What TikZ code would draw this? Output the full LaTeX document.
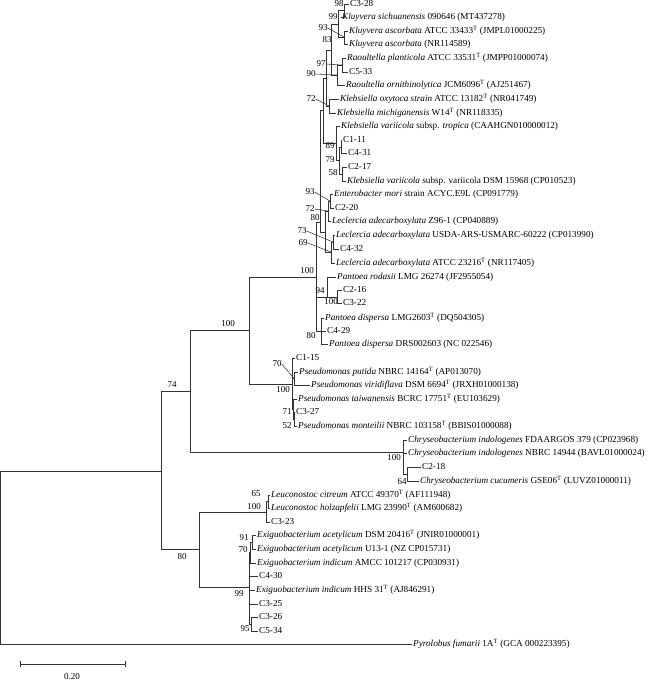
\documentclass[tikz,border=0pt]{standalone}
\usepackage{fontspec}
\setmainfont{Liberation Serif}
\begin{document}
\begin{tikzpicture}[x=1pt, y=-1pt,
        branch/.style={color=black!80, line width=0.7pt},
        lead/.style={color=black!80, line width=0.55pt},
        taxon/.style={anchor=west, inner sep=1.5pt, text height=1.6ex, text depth=0.3ex, font=\fontsize{9.2}{11}\selectfont},
        boot/.style={inner sep=0pt, font=\fontsize{9}{10}\selectfont}]
        \useasboundingbox (0,0) rectangle (650,681);
        % taxa
        \node[taxon] (l1) at (348.5,4) {C3-28};
        \node[taxon] (l2) at (340.5,17) {\textit{Kluyvera sichuanensis} 090646 (MT437278)};
        \node[taxon] (l3) at (347.5,31) {\textit{Kluyvera ascorbata} ATCC 33433\textsuperscript{T} (JMPL01000225)};
        \node[taxon] (l4) at (347.5,44) {\textit{Kluyvera ascorbata} (NR114589)};
        \node[taxon] (l5) at (345.5,58) {\textit{Raoultella planticola} ATCC 33531\textsuperscript{T} (JMPP01000074)};
        \node[taxon] (l6) at (347.5,72) {C5-33};
        \node[taxon] (l7) at (344.5,85) {\textit{Raoultella ornithinolytica} JCM6096\textsuperscript{T} (AJ251467)};
        \node[taxon] (l8) at (338.5,99) {\textit{Klebsiella oxytoca strain} ATCC 13182\textsuperscript{T} (NR041749)};
        \node[taxon] (l9) at (335.5,113) {\textit{Klebsiella michiganensis} W14\textsuperscript{T} (NR118335)};
        \node[taxon] (l10) at (339.5,126) {\textit{Klebsiella variicola} subsp. \textit{tropica} (CAAHGN010000012)};
        \node[taxon] (l11) at (341.5,140) {C1-11};
        \node[taxon] (l12) at (346.5,153) {C4-31};
        \node[taxon] (l13) at (346.5,167) {C2-17};
        \node[taxon] (l14) at (345.5,181) {\textit{Klebsiella variicola} subsp. variicola DSM 15968 (CP010523)};
        \node[taxon] (l15) at (332.5,194) {\textit{Enterobacter mori} strain ACYC.E9L (CP091779)};
        \node[taxon] (l16) at (333.5,208) {C2-20};
        \node[taxon] (l17) at (330.5,221) {\textit{Leclercia adecarboxylata} Z96-1 (CP040889)};
        \node[taxon] (l18) at (334.5,235) {\textit{Leclercia adecarboxylata} USDA-ARS-USMARC-60222 (CP013990)};
        \node[taxon] (l19) at (338.5,249) {C4-32};
        \node[taxon] (l20) at (334.5,263) {\textit{Leclercia adecarboxylata} ATCC 23216\textsuperscript{T} (NR117405)};
        \node[taxon] (l21) at (335.5,277) {\textit{Pantoea rodasii} LMG 26274 (JF2955054)};
        \node[taxon] (l22) at (341.5,290) {C2-16};
        \node[taxon] (l23) at (341.5,303) {C3-22};
        \node[taxon] (l24) at (323.5,318) {\textit{Pantoea dispersa} LMG2603\textsuperscript{T} (DQ504305)};
        \node[taxon] (l25) at (325.5,331) {C4-29};
        \node[taxon] (l26) at (327.5,344) {\textit{Pantoea dispersa} DRS002603 (NC 022546)};
        \node[taxon] (l27) at (294.5,358) {C1-15};
        \node[taxon] (l28) at (297.5,372) {\textit{Pseudomonas putida} NBRC 14164\textsuperscript{T} (AP013070)};
        \node[taxon] (l29) at (309.5,385) {\textit{Pseudomonas viridiflava} DSM 6694\textsuperscript{T} (JRXH01000138)};
        \node[taxon] (l30) at (296.5,399) {\textit{Pseudomonas taiwanensis} BCRC 17751\textsuperscript{T} (EU103629)};
        \node[taxon] (l31) at (294.5,412) {C3-27};
        \node[taxon] (l32) at (296.5,426) {\textit{Pseudomonas monteilii} NBRC 103158\textsuperscript{T} (BBIS01000088)};
        \node[taxon] (l33) at (406.5,440) {\textit{Chryseobacterium indologenes} FDAARGOS 379 (CP023968)};
        \node[taxon] (l34) at (406.5,453) {\textit{Chryseobacterium indologenes} NBRC 14944 (BAVL01000024)};
        \node[taxon] (l35) at (420.5,467) {C2-18};
        \node[taxon] (l36) at (418.5,481) {\textit{Chryseobacterium cucumeris} GSE06\textsuperscript{T} (LUVZ01000011)};
        \node[taxon] (l37) at (269.5,495) {\textit{Leuconostoc citreum} ATCC 49370\textsuperscript{T} (AF111948)};
        \node[taxon] (l38) at (269.5,508) {\textit{Leuconostoc holzapfelii} LMG 23990\textsuperscript{T} (AM600682)};
        \node[taxon] (l39) at (269.5,522) {C3-23};
        \node[taxon] (l40) at (255.5,535) {\textit{Exiguobacterium acetylicum} DSM 20416\textsuperscript{T} (JNIR01000001)};
        \node[taxon] (l41) at (255.5,549) {\textit{Exiguobacterium acetylicum} U13-1 (NZ CP015731)};
        \node[taxon] (l42) at (255.5,563) {\textit{Exiguobacterium indicum} AMCC 101217 (CP030931)};
        \node[taxon] (l43) at (257.5,576) {C4-30};
        \node[taxon] (l44) at (254.5,590) {\textit{Exiguobacterium indicum} HHS 31\textsuperscript{T} (AJ846291)};
        \node[taxon] (l45) at (257.5,604) {C3-25};
        \node[taxon] (l46) at (257.5,617) {C3-26};
        \node[taxon] (l47) at (257.5,631) {C5-34};
        \node[taxon] (l48) at (411.5,644) {\textit{Pyrolobus fumarii} 1A\textsuperscript{T} (GCA 000223395)};
        % internal nodes
        \coordinate (root) at (0,557.5);
        \coordinate (nA) at (161,471);
        \coordinate (nB) at (190,391);
        \coordinate (nG) at (199,549);
        \coordinate (nC) at (249,330);
        \coordinate (nCh) at (403,452);
        \coordinate (nD) at (316,277);
        \coordinate (nPs) at (292,384);
        \coordinate (nE) at (320,222);
        \coordinate (nR) at (327,297);
        \coordinate (nRb) at (337,297);
        \coordinate (nP) at (321,331);
        \coordinate (nKV) at (323,110);
        \coordinate (nLec) at (325,232);
        \coordinate (nKO) at (326,78);
        \coordinate (nVar) at (336,143);
        \coordinate (n83) at (331,50);
        \coordinate (n72) at (329,106);
        \coordinate (n99) at (338,24);
        \coordinate (n90) at (337,75);
        \coordinate (n98) at (344,10);
        \coordinate (nAsc) at (344,37);
        \coordinate (n97) at (342,65);
        \coordinate (n79) at (339,160);
        \coordinate (n89) at (341,147);
        \coordinate (n58) at (342,174);
        \coordinate (n72b) at (328,211);
        \coordinate (n69) at (331,252);
        \coordinate (n93) at (330,201);
        \coordinate (n73) at (333,242);
        \coordinate (n70) at (294,378.5);
        \coordinate (n71) at (293,409);
        \coordinate (n52) at (294,419);
        \coordinate (n64) at (407,474);
        \coordinate (nLeu) at (266,512);
        \coordinate (n65) at (268,501);
        \coordinate (nEx) at (249,587);
        \coordinate (n70e) at (250,552);
        \coordinate (n91) at (252,542);
        \coordinate (n95) at (251,624);
        % branches
        \draw[branch] (root) |- (nA);
        \draw[branch] (root) |- (l48);
        \draw[branch] (nA) |- (nB);
        \draw[branch] (nA) |- (nG);
        \draw[branch] (nB) |- (nC);
        \draw[branch] (nB) |- (nCh);
        \draw[branch] (nC) |- (nD);
        \draw[branch] (nC) |- (nPs);
        \draw[branch] (nD) |- (nE);
        \draw[branch] (nD) |- (nR);
        \draw[branch] (nD) |- (nP);
        \draw[branch] (nE) |- (nKV);
        \draw[branch] (nE) |- (nLec);
        \draw[branch] (nKV) |- (nKO);
        \draw[branch] (nKV) |- (nVar);
        \draw[branch] (nKO) |- (n83);
        \draw[branch] (nKO) |- (n72);
        \draw[branch] (n83) |- (n99);
        \draw[branch] (n83) |- (n90);
        \draw[branch] (n99) |- (n98);
        \draw[branch] (n99) |- (nAsc);
        \draw[branch] (n98) |- (l1);
        \draw[branch] (n98) |- (l2);
        \draw[branch] (nAsc) |- (l3);
        \draw[branch] (nAsc) |- (l4);
        \draw[branch] (n90) |- (n97);
        \draw[branch] (n90) |- (l7);
        \draw[branch] (n97) |- (l5);
        \draw[branch] (n97) |- (l6);
        \draw[branch] (n72) |- (l8);
        \draw[branch] (n72) |- (l9);
        \draw[branch] (nVar) |- (l10);
        \draw[branch] (nVar) |- (n79);
        \draw[branch] (n79) |- (n89);
        \draw[branch] (n79) |- (n58);
        \draw[branch] (n89) |- (l11);
        \draw[branch] (n89) |- (l12);
        \draw[branch] (n58) |- (l13);
        \draw[branch] (n58) |- (l14);
        \draw[branch] (nLec) |- (n72b);
        \draw[branch] (nLec) |- (n69);
        \draw[branch] (n72b) |- (n93);
        \draw[branch] (n72b) |- (l17);
        \draw[branch] (n93) |- (l15);
        \draw[branch] (n93) |- (l16);
        \draw[branch] (n69) |- (n73);
        \draw[branch] (n69) |- (l20);
        \draw[branch] (n73) |- (l18);
        \draw[branch] (n73) |- (l19);
        \draw[branch] (nR) |- (l21);
        \draw[branch] (nR) |- (nRb);
        \draw[branch] (nRb) |- (l22);
        \draw[branch] (nRb) |- (l23);
        \draw[branch] (nP) |- (l24);
        \draw[branch] (nP) |- (l25);
        \draw[branch] (nP) |- (l26);
        \draw[branch] (nPs) |- (l27);
        \draw[branch] (nPs) |- (n70);
        \draw[branch] (nPs) |- (n71);
        \draw[branch] (n70) |- (l28);
        \draw[branch] (n70) |- (l29);
        \draw[branch] (n71) |- (l30);
        \draw[branch] (n71) |- (n52);
        \draw[branch] (n52) |- (l31);
        \draw[branch] (n52) |- (l32);
        \draw[branch] (nCh) |- (l33);
        \draw[branch] (nCh) |- (l34);
        \draw[branch] (nCh) |- (n64);
        \draw[branch] (n64) |- (l35);
        \draw[branch] (n64) |- (l36);
        \draw[branch] (nG) |- (nLeu);
        \draw[branch] (nG) |- (nEx);
        \draw[branch] (nLeu) |- (n65);
        \draw[branch] (nLeu) |- (l39);
        \draw[branch] (n65) |- (l37);
        \draw[branch] (n65) |- (l38);
        \draw[branch] (nEx) |- (n70e);
        \draw[branch] (nEx) |- (l43);
        \draw[branch] (nEx) |- (l44);
        \draw[branch] (nEx) |- (l45);
        \draw[branch] (nEx) |- (n95);
        \draw[branch] (n70e) |- (n91);
        \draw[branch] (n70e) |- (l42);
        \draw[branch] (n91) |- (l40);
        \draw[branch] (n91) |- (l41);
        \draw[branch] (n95) |- (l46);
        \draw[branch] (n95) |- (l47);
        % bootstrap values
        \node[boot] (b98) at (339,4) {98};
        \node[boot] (b99) at (333,17) {99};
        \node[boot] (b93a) at (323,28) {93};
        \node[boot] (b83) at (327,40) {83};
        \node[boot] (b97) at (321,64) {97};
        \node[boot] (b90) at (311,74) {90};
        \node[boot] (b72a) at (311,99) {72};
        \node[boot] (b89) at (330,146) {89};
        \node[boot] (b79) at (330,160) {79};
        \node[boot] (b58) at (333,173) {58};
        \node[boot] (b93b) at (310,192) {93};
        \node[boot] (b72b) at (310,209) {72};
        \node[boot] (b80e) at (315,218) {80};
        \node[boot] (b73) at (302,231) {73};
        \node[boot] (b69) at (303,243) {69};
        \node[boot] (b100d) at (307,271) {100};
        \node[boot] (b94) at (320,291) {94};
        \node[boot] (b100r) at (331,302) {100};
        \node[boot] (b80p) at (311,336) {80};
        \node[boot] (b100c) at (228,324) {100};
        \node[boot] (b70) at (277,364) {70};
        \node[boot] (b100ps) at (283,390) {100};
        \node[boot] (b71) at (287,412) {71};
        \node[boot] (b52) at (287,426) {52};
        \node[boot] (b100ch) at (394,458) {100};
        \node[boot] (b64) at (402,482) {64};
        \node[boot] (b74) at (172,385) {74};
        \node[boot] (b80g) at (182,557) {80};
        \node[boot] (b65) at (256,494) {65};
        \node[boot] (b100l) at (254,507) {100};
        \node[boot] (b91) at (244,538) {91};
        \node[boot] (b70e) at (243,550) {70};
        \node[boot] (b99) at (239,594) {99};
        \node[boot] (b95) at (245,629) {95};
        \draw[lead] (b93a.east) -- (nAsc);
        \draw[lead] (b97.east) -- (n97);
        \draw[lead] (b90.east) -- (n90);
        \draw[lead] (b72a.east) -- (n72);
        \draw[lead] (b93b.east) -- (n93);
        \draw[lead] (b72b.east) -- (n72b);
        \draw[lead] (b73.east) -- (n73);
        \draw[lead] (b69.east) -- (n69);
        \draw[lead] (b70.east) -- (n70);
        % scale bar
        \coordinate (sb1) at (20,664);
        \coordinate (sb2) at (125,664);
        \draw[branch] (sb1) -- (sb2);
        \draw[branch] ([yshift=3pt]sb1) -- ([yshift=-3pt]sb1);
        \draw[branch] ([yshift=3pt]sb2) -- ([yshift=-3pt]sb2);
        \node[boot] (sblab) at (72,677) {0.20};
\end{tikzpicture}
\end{document}
